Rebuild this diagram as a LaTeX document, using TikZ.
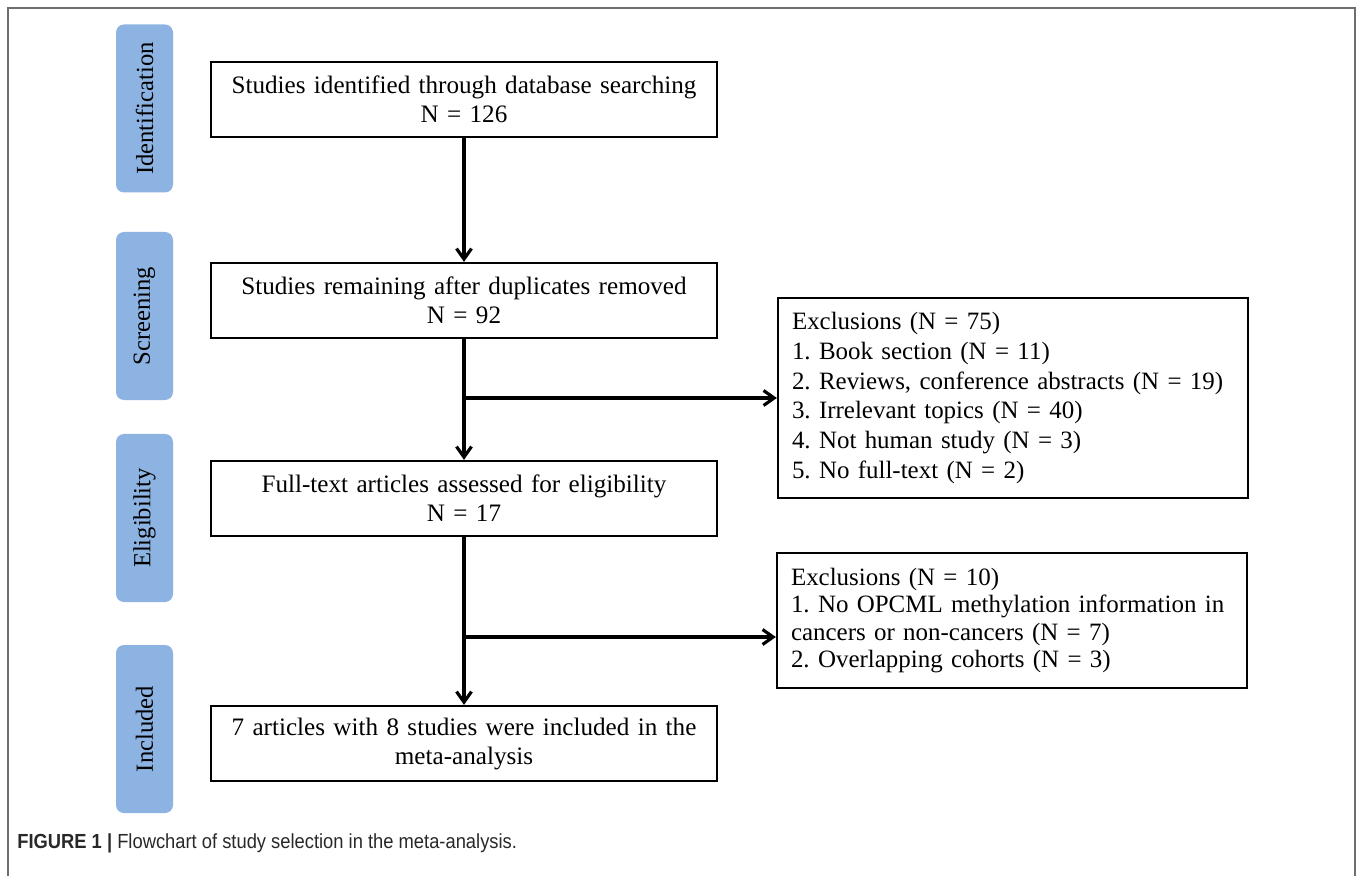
\documentclass[tikz,border=0pt]{standalone}
\usepackage{fontspec}
\setmainfont{Liberation Serif}
\newfontfamily\capfont[FakeStretch=0.9]{Liberation Sans}
\usetikzlibrary{arrows.meta, positioning}
\frenchspacing

\definecolor{stageblue}{RGB}{141,179,226}
\definecolor{framegray}{RGB}{110,110,110}
\definecolor{captext}{RGB}{40,40,40}

\begin{document}
\begin{tikzpicture}[x=0.2mm, y=-0.2mm, node distance=4.02cm,
    stage/.style={rectangle, fill=stageblue, rounded corners=1.6mm, rotate=90, minimum width=33.6mm, minimum height=11.4mm, inner sep=0pt, font=\fontsize{14}{16}\selectfont},
    block/.style={rectangle, draw, line width=1.3pt, minimum width=101.2mm, minimum height=15mm, text width=96mm, align=center, inner sep=0pt, font=\fontsize{14.3}{16.5}\selectfont},
    excl/.style={rectangle, draw, line width=1.3pt, minimum width=94mm, text width=88.4mm, align=left, inner xsep=2.6mm, inner ysep=0pt},
    arrow/.style={line width=1.8pt, -{Straight Barb[length=6pt,width=8.5pt]}}]
    \useasboundingbox (0,0) rectangle (1358,876);
    \draw [framegray, line width=1pt] (8,876) -- (8,8) -- (1355,8) -- (1355,876);

    % stages on the left
    \node [stage] (sident) at (144.5,108.5) {Identification};
    \node [stage] (sscreen) at (144.5,316) {Screening};
    \node [stage] (selig) at (144.5,518) {Eligibility};
    \node [stage] (sincl) at (144.5,729) {Included};

    % main boxes
    \node [block] (ident) at (464,99.5) {Studies identified through database searching\\N = 126};
    \node [block, below of=ident] (screen) {Studies remaining after duplicates removed\\N = 92};
    \node [block, below of=screen, node distance=3.96cm] (elig) {Full-text articles assessed for eligibility\\N = 17};
    \node [block, below of=elig, node distance=4.9cm] (incl) {7 articles with 8 studies were included in the\\meta-analysis};

    % exclusions
    \node [excl, minimum height=40mm, font=\fontsize{14.2}{17}\selectfont] (excl1) at (1013,398) {Exclusions (N = 75)\\1. Book section (N = 11)\\2. Reviews, conference abstracts (N = 19)\\3. Irrelevant topics (N = 40)\\4. Not human study (N = 3)\\5. No full-text (N = 2)};
    \node [excl, minimum height=27mm, font=\fontsize{14.2}{15.6}\selectfont] (excl2) at (1012,620.5) {Exclusions (N = 10)\\\makebox[\linewidth][s]{1. No OPCML methylation information in}\\cancers or non-cancers (N = 7)\\2. Overlapping cohorts (N = 3)};

    \draw [arrow] (ident) -- (screen);
    \draw [arrow] (screen) -- (elig);
    \draw [arrow] (elig) -- (incl);
    \draw [arrow] (screen.south |- excl1.west) -- (excl1.west);
    \coordinate (split2) at (464,637);
    \draw [arrow] (split2) -- (split2 -| excl2.west);

    \node [anchor=west, inner sep=0pt, text=captext, font=\capfont\fontsize{11.6}{14}\selectfont] (caption) at (17,843) {\textbf{FIGURE 1 |} Flowchart of study selection in the meta-analysis.};
\end{tikzpicture}
\end{document}
